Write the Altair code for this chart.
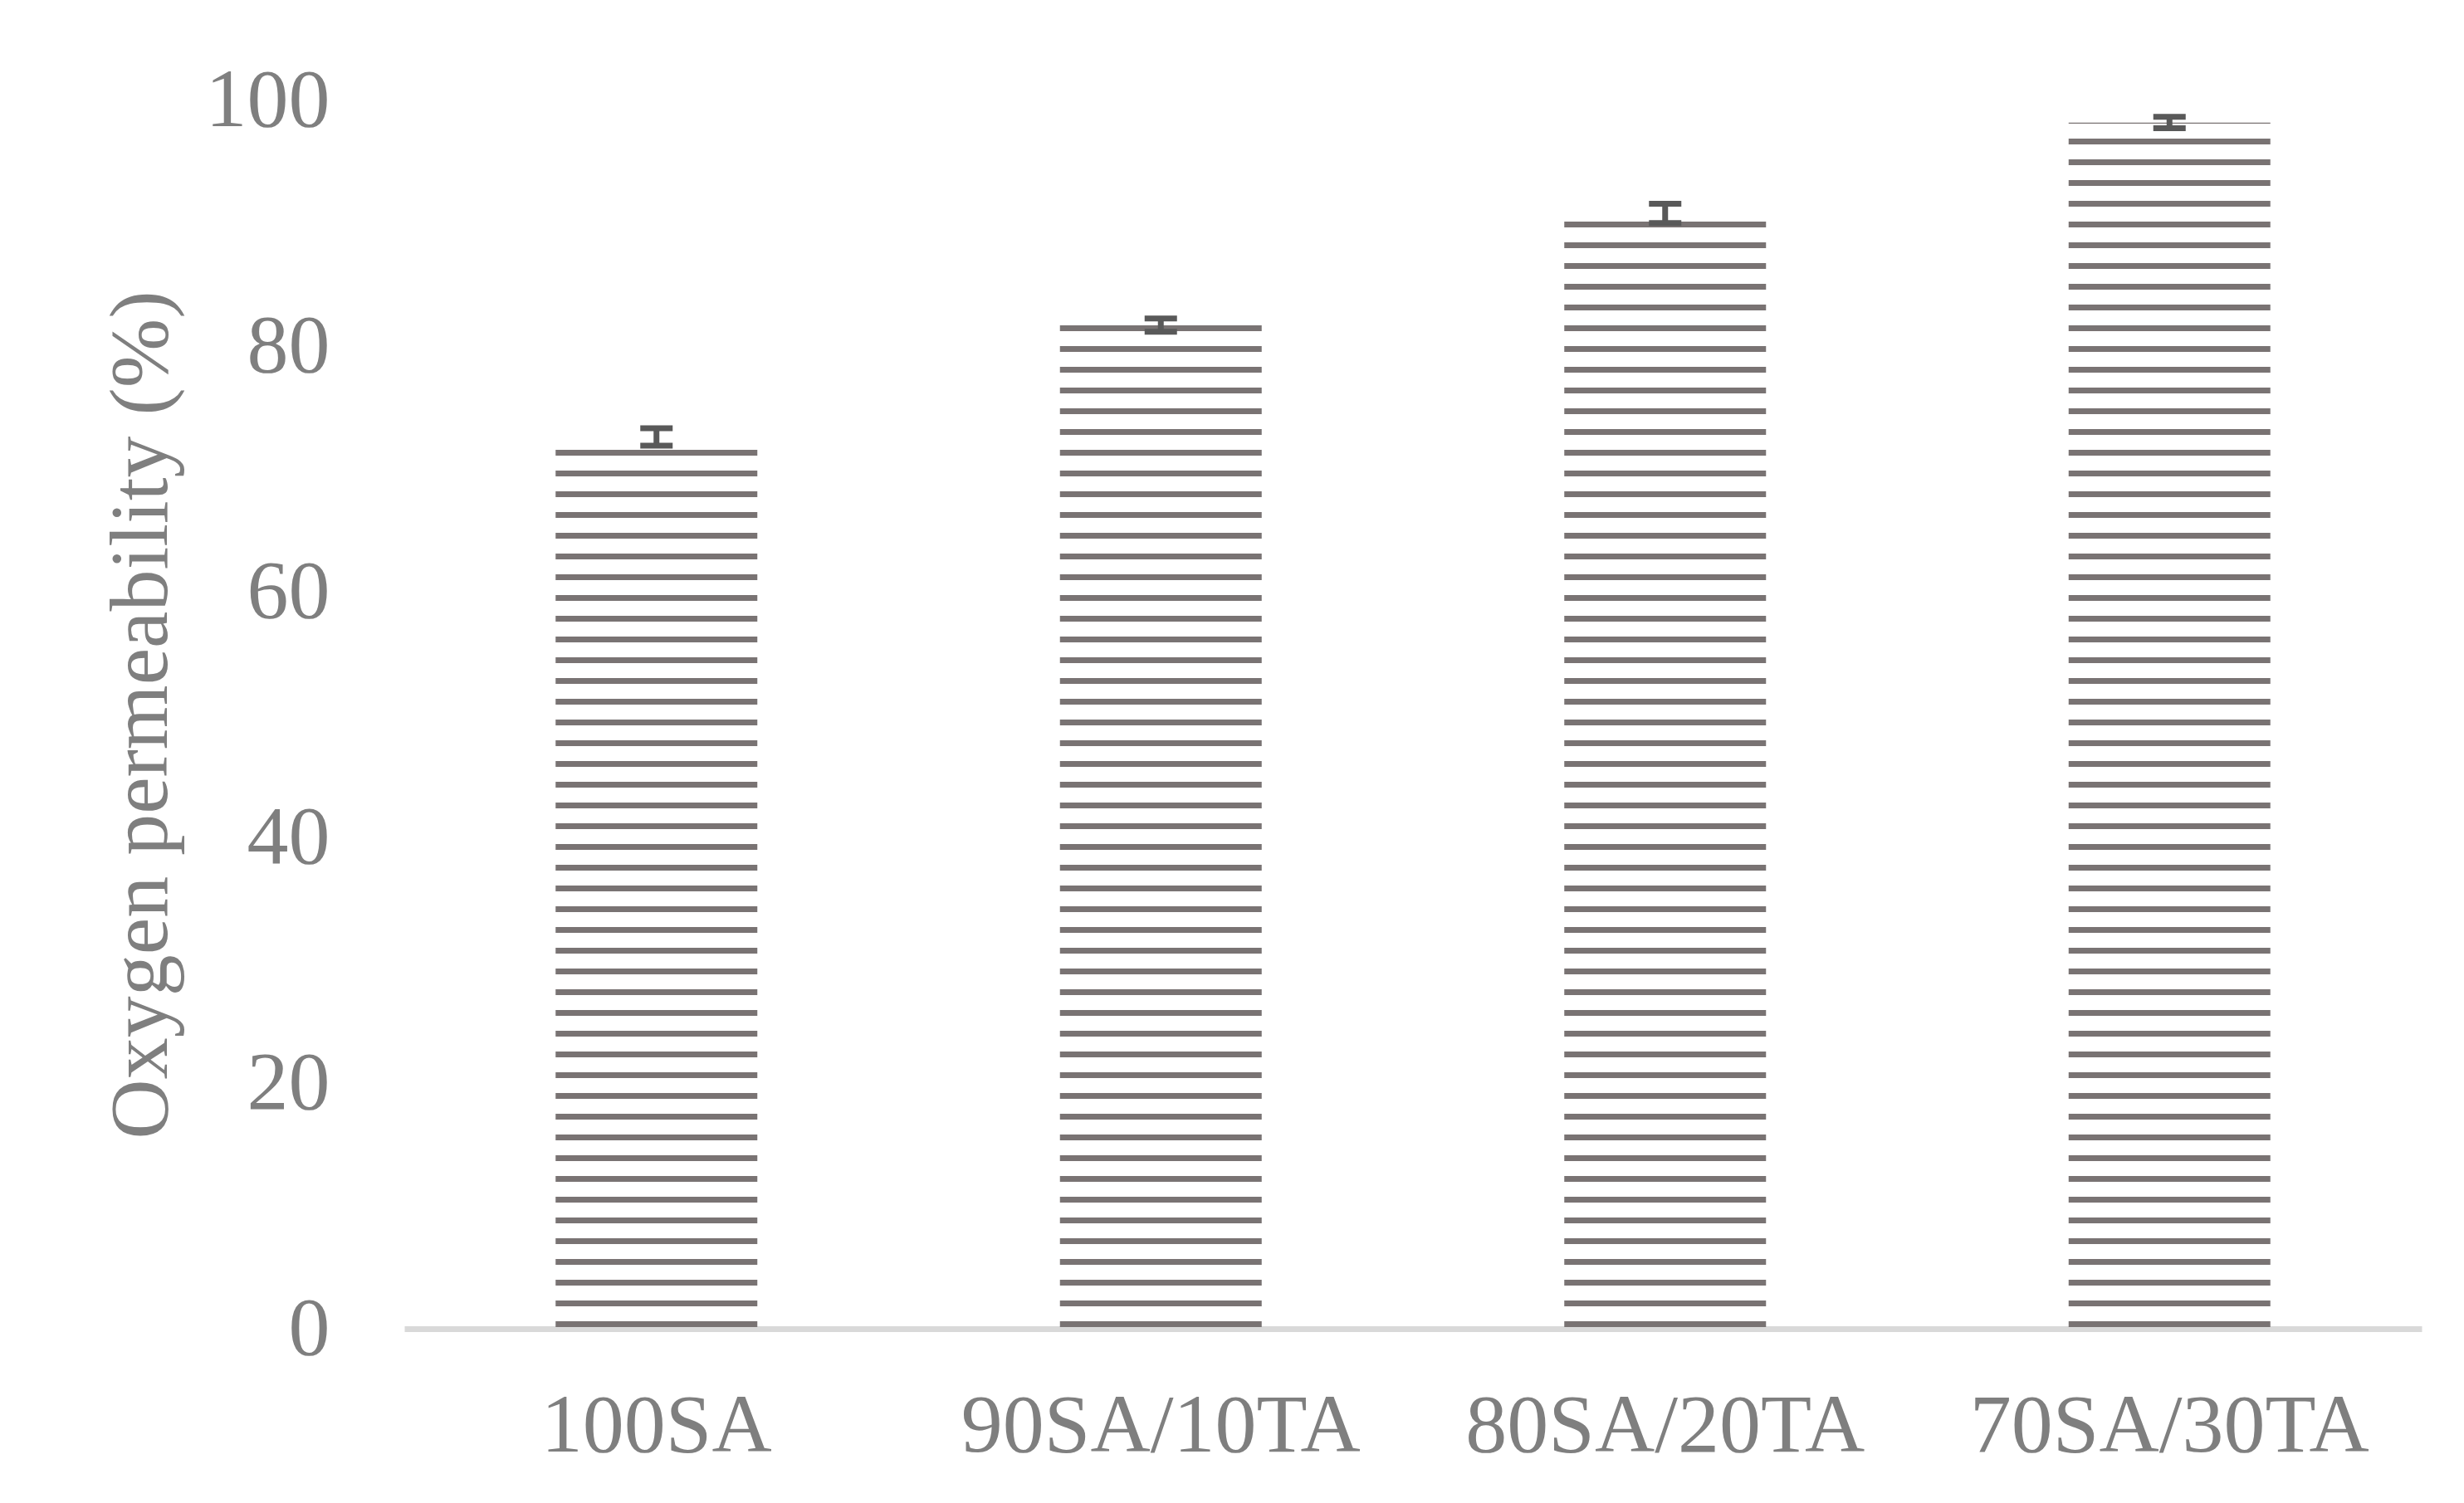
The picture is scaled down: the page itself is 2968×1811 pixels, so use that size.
import altair as alt
import pandas as pd

# ---- data ----
categories = ["100SA", "90SA/10TA", "80SA/20TA", "70SA/30TA"]
values = [72.6, 81.7, 90.8, 98.2]
errors = [0.71, 0.54, 0.78, 0.47]
y_ticks = [0, 20, 40, 60, 80, 100]

# ---- style constants (horizontal stripe fill, in axis units) ----
PX_PER_UNIT = 14.8
STRIPE_PERIOD = 25 / PX_PER_UNIT
STRIPE_THICK = 7 / PX_PER_UNIT
STRIPE_OFFSET = 2 / PX_PER_UNIT

STRIPE_COLOR = "#797373"
ERR_COLOR = "#595959"
TEXT_COLOR = "#7f7f7f"
AXIS_COLOR = "#d9d9d9"
FONT = "Liberation Serif"

bars = pd.DataFrame({
    "category": categories,
    "value": values,
    "err": errors,
})
bars["lo"] = bars["value"] - bars["err"]
bars["hi"] = bars["value"] + bars["err"]

# stripe table derived from the bar values (pattern fill emulation)
rows = []
for c, v in zip(categories, values):
    k = 0
    while True:
        s0 = STRIPE_OFFSET + k * STRIPE_PERIOD
        if s0 >= v:
            break
        rows.append({"category": c, "s0": s0, "s1": min(s0 + STRIPE_THICK, v)})
        k += 1
stripes = pd.DataFrame(rows)

x_enc = alt.X(
    "category:N",
    sort=categories,
    scale=alt.Scale(paddingInner=0.6, paddingOuter=0.3),
    axis=alt.Axis(
        title=None,
        labelAngle=0,
        labelFont=FONT,
        labelFontSize=100,
        labelColor=TEXT_COLOR,
        labelPadding=68,
        labelLimit=0,
        ticks=False,
        tickSize=0,
        domainColor=AXIS_COLOR,
        domainWidth=7,
    ),
)

y_scale = alt.Scale(domain=[0, 100], nice=False)
y_axis = alt.Axis(
    title="Oxygen permeability (%)",
    values=y_ticks,
    grid=False,
    domain=False,
    ticks=False,
    tickSize=0,
    labelFont=FONT,
    labelFontSize=100,
    labelColor=TEXT_COLOR,
    labelPadding=90,
    titleFont=FONT,
    titleFontSize=100,
    titleFontWeight="normal",
    titleColor=TEXT_COLOR,
    titlePadding=66,
)

stripe_layer = alt.Chart(stripes).mark_bar(color=STRIPE_COLOR).encode(
    x=x_enc,
    y=alt.Y("s0:Q", scale=y_scale, axis=y_axis),
    y2="s1:Q",
)

stem = alt.Chart(bars).mark_rule(color=ERR_COLOR, strokeWidth=7).encode(
    x=alt.X("category:N", sort=categories),
    y=alt.Y("lo:Q", scale=y_scale),
    y2="hi:Q",
)
cap_lo = alt.Chart(bars).mark_tick(color=ERR_COLOR, size=39, thickness=7, opacity=1).encode(
    x=alt.X("category:N", sort=categories),
    y=alt.Y("lo:Q", scale=y_scale),
)
cap_hi = alt.Chart(bars).mark_tick(color=ERR_COLOR, size=39, thickness=7, opacity=1).encode(
    x=alt.X("category:N", sort=categories),
    y=alt.Y("hi:Q", scale=y_scale),
)

chart = (
    alt.layer(stripe_layer, stem, cap_lo, cap_hi)
    .properties(
        width=2430,
        height=1480,
        background="white",
        autosize=alt.AutoSizeParams(type="none"),
        padding={"left": 479, "top": 113, "right": 43, "bottom": 202},
    )
    .configure_view(strokeWidth=0, stroke=None)
)

chart.save("out.html", embed_options={"renderer": "svg", "actions": False})
